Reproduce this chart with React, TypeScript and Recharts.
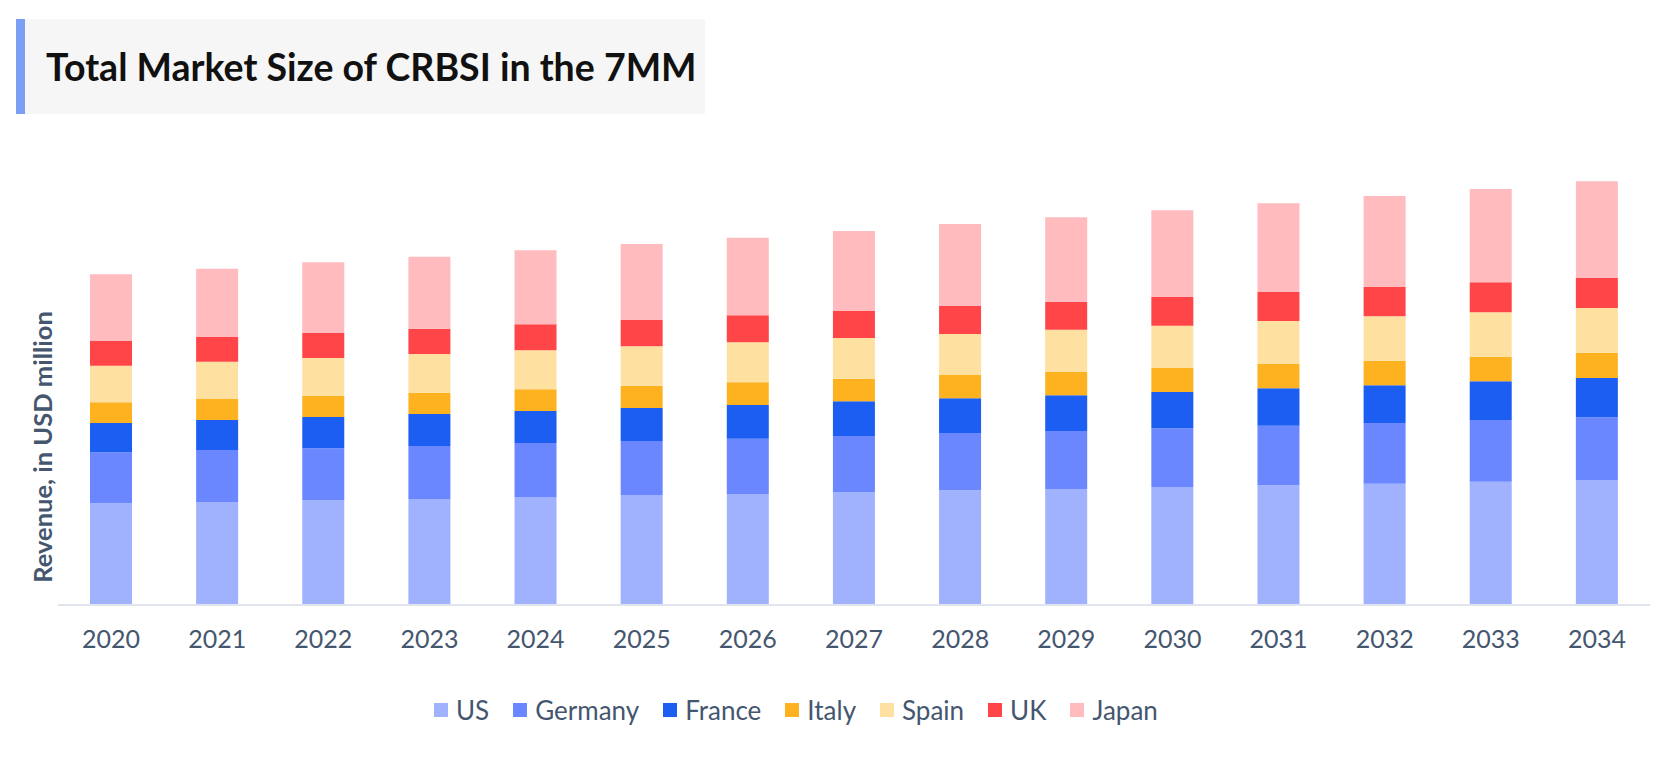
import { BarChart, Bar, XAxis, YAxis, Legend } from "recharts";

const years = [
  "2020", "2021", "2022", "2023", "2024", "2025", "2026", "2027",
  "2028", "2029", "2030", "2031", "2032", "2033", "2034",
];

// revenue by country
const us = [101.7, 103, 104.7, 106, 108, 110, 111, 112.7, 114.7, 116, 118, 119.7, 121.3, 123.3, 125];
const germany = [51, 52, 52, 53, 54, 54, 55.3, 56.3, 57.3, 58, 58.7, 59.6, 60.7, 61.7, 62.7];
const france = [29.3, 30, 31.3, 32, 32, 33, 33.7, 34.7, 34.7, 35.7, 36.3, 37.4, 37.7, 38.7, 39.3];
const italy = [20.7, 21, 21.3, 21.3, 21.7, 22.3, 22.7, 22.6, 23.3, 23.6, 24, 24.3, 24.6, 24.6, 25.3];
const spain = [36.6, 37.3, 37.7, 38.7, 39, 39.4, 40, 40.7, 41, 42, 42.3, 43, 44.4, 44.4, 44.7];
const uk = [24.7, 24.7, 25, 25.3, 26, 26.3, 27, 27, 28, 27.7, 28.7, 29, 29.3, 30, 30.3];
const japan = [66.7, 68.3, 70.7, 72, 74, 76, 77.6, 80, 82, 84.7, 86.7, 88.7, 91, 93.3, 96.4];

const series = [
  { key: "US", values: us, color: "#a0b1fe" },
  { key: "Germany", values: germany, color: "#6a87ff" },
  { key: "France", values: france, color: "#1b5ef1" },
  { key: "Italy", values: italy, color: "#feb21f" },
  { key: "Spain", values: spain, color: "#fee0a0" },
  { key: "UK", values: uk, color: "#ff4547" },
  { key: "Japan", values: japan, color: "#ffbbbd" },
];

const data = years.map((year, i) => {
  const row: any = { year };
  series.forEach((s) => (row[s.key] = s.values[i]));
  return row;
});

const FONT = "Lato, 'Open Sans', sans-serif";
const TEXT = "#45566f";

// keep the legend in series order (recharts 3 sorts it by name otherwise)
const renderLegend = () => (
  <div style={{ display: "flex", alignItems: "center", fontFamily: FONT }}>
    {series.map((s) => (
      <div
        key={s.key}
        style={{ display: "flex", alignItems: "center", marginRight: 24 }}
      >
        <span
          style={{
            width: 14,
            height: 14,
            background: s.color,
            marginRight: 8,
            display: "inline-block",
          }}
        />
        <span style={{ fontSize: 26, color: TEXT, lineHeight: "30px" }}>
          {s.key}
        </span>
      </div>
    ))}
  </div>
);

export default function App() {
  return (
    <div
      style={{
        position: "fixed",
        top: 0,
        left: 0,
        width: 1667,
        height: 763,
        background: "#fff",
        fontFamily: FONT,
      }}
    >
      <div
        style={{
          position: "absolute",
          left: 16,
          top: 19,
          width: 659,
          height: 95,
          background: "#f6f6f6",
          borderLeft: "9px solid #7b9ff5",
          display: "flex",
          alignItems: "center",
          paddingLeft: 21,
          boxSizing: "content-box",
        }}
      >
        <span
          style={{
            fontSize: 37.5,
            fontWeight: 700,
            color: "#111",
            whiteSpace: "nowrap",
          }}
        >
          Total Market Size of CRBSI in the 7MM
        </span>
      </div>

      <div
        style={{
          position: "absolute",
          left: 42,
          top: 447,
          transform: "translate(-50%, -50%) rotate(-90deg)",
          whiteSpace: "nowrap",
          fontSize: 25.5,
          fontWeight: 700,
          color: TEXT,
        }}
      >
        Revenue, in USD million
      </div>

      <div style={{ position: "absolute", left: 0, top: 0 }}>
        <BarChart
          width={1667}
          height={763}
          data={data}
          margin={{ top: 165, right: 17, left: 58, bottom: 118 }}
        >
          <XAxis
            dataKey="year"
            height={40}
            axisLine={{ stroke: "#dfe4ed", strokeWidth: 2 }}
            tickLine={false}
            tickSize={0}
            tickMargin={25}
            tick={{ fill: TEXT, fontSize: 25, fontFamily: FONT }}
            interval={0}
          />
          <YAxis hide domain={[0, 440]} />
          <Legend
            content={renderLegend}
            layout="horizontal"
            verticalAlign="middle"
            align="center"
            wrapperStyle={{ left: 434, top: 695, width: "auto", right: "auto" }}
          />
          {series.map((s) => (
            <Bar
              key={s.key}
              dataKey={s.key}
              stackId="a"
              fill={s.color}
              barSize={42}
              isAnimationActive={false}
            />
          ))}
        </BarChart>
      </div>
    </div>
  );
}
